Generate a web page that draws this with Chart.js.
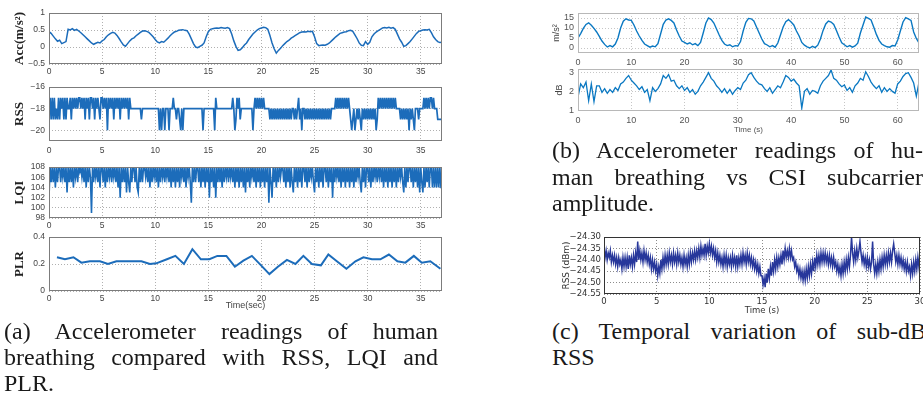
<!DOCTYPE html>
<html>
<head>
<meta charset="utf-8">
<script src="https://cdn.jsdelivr.net/npm/chart.js@4.4.0/dist/chart.umd.min.js"></script>
<style>
    html, body { margin: 0; padding: 0; width: 923px; height: 401px; overflow: hidden; background: #fff; }
    canvas { position: absolute; }
    .cap { position: absolute; font-family: "Liberation Serif", serif; font-size: 24px; line-height: 26px; color: #1a1a1a; }
    .cap div { text-align: justify; text-align-last: justify; }
    .cap div.last { text-align-last: left; }
</style>
</head>
<body>
<canvas id="accChart"></canvas>
<canvas id="rssChart"></canvas>
<canvas id="lqiChart"></canvas>
<canvas id="plrChart"></canvas>
<canvas id="breathChart"></canvas>
<canvas id="csiChart"></canvas>
<canvas id="dbmChart"></canvas>

<div class="cap" style="left:4px; top:318px; width:434px;">
    <div>(a) Accelerometer readings of human</div>
    <div>breathing compared with RSS, LQI and</div>
    <div class="last">PLR.</div>
</div>
<div class="cap" style="left:552px; top:137px; width:371px; line-height:26.5px;">
    <div>(b) Accelerometer readings of hu-</div>
    <div>man breathing vs CSI subcarrier</div>
    <div class="last">amplitude.</div>
</div>
<div class="cap" style="left:552px; top:318px; width:374px;">
    <div>(c) Temporal variation of sub-dB</div>
    <div class="last">RSS</div>
</div>

<script>
// ---- (a) accelerometer, one sample every 0.2 s
const accStep = 0.2;
const accValues = [
    0.45, 0.40, 0.32, 0.24, 0.17, 0.20, 0.10, 0.13, 0.16, 0.52,
    0.50, 0.54, 0.49, 0.52, 0.47, 0.42, 0.36, 0.30, 0.24, 0.18,
    0.12, 0.08, 0.11, 0.14, 0.12, 0.18, 0.22, 0.30, 0.36, 0.40,
    0.43, 0.41, 0.34, 0.25, 0.15, 0.06, 0.02, 0.10, 0.18, 0.24,
    0.27, 0.33, 0.38, 0.43, 0.47, 0.48, 0.46, 0.43, 0.37, 0.30,
    0.22, 0.15, 0.12, 0.16, 0.14, 0.20, 0.26, 0.33, 0.39, 0.44,
    0.46, 0.49, 0.50, 0.51, 0.49, 0.48, 0.38, 0.24, 0.10, 0.00,
    -0.02, 0.02, 0.05, 0.12, 0.30, 0.45, 0.52, 0.54, 0.55, 0.56,
    0.55, 0.57, 0.56, 0.55, 0.57, 0.54, 0.38, 0.18, 0.02, -0.10,
    -0.08, -0.02, 0.06, 0.12, 0.22, 0.30, 0.38, 0.44, 0.50, 0.54,
    0.56, 0.58, 0.57, 0.52, 0.34, 0.12, -0.05, -0.18, -0.10, -0.04,
    0.04, 0.10, 0.16, 0.20, 0.26, 0.30, 0.34, 0.38, 0.42, 0.44,
    0.45, 0.44, 0.46, 0.45, 0.46, 0.30, 0.10, 0.04, 0.05, 0.06,
    0.05, 0.08, 0.12, 0.18, 0.24, 0.30, 0.35, 0.40, 0.42, 0.44,
    0.45, 0.48, 0.49, 0.46, 0.36, 0.25, 0.12, 0.05, 0.04, 0.16,
    0.08, 0.14, 0.30, 0.38, 0.44, 0.48, 0.52, 0.56, 0.57, 0.56,
    0.58, 0.55, 0.57, 0.52, 0.38, 0.24, 0.14, 0.02, 0.04, 0.10,
    0.16, 0.24, 0.32, 0.40, 0.46, 0.48, 0.50, 0.51, 0.50, 0.52,
    0.42, 0.30, 0.22, 0.16, 0.13, 0.14
];

// ---- (a) RSS, one code every 0.1 s (one string per second)
const rssStep = 0.1;
const rssLevels = { '7': -17, '8': -18, '9': -19, '0': -20 };
const rssCodes = [
    '8797979897', '9787979788', '7978787877', '8787978797', '7879787897',
    '7878707878', '7978787978', '7878797888', '8888888988', '8888888888',
    '8888080880', '8880888788', '9889080888', '8888888888', '8888808888',
    '8888880788', '8888888888', '8887809787', '9888888888', '8808787878',
    '7878888898', '9898989898', '9898989898', '8989879808', '8989898989',
    '8989898989', '8989898888', '7878787878', '7878909809', '8989089898',
    '9898989809', '7878787878', '7878787888', '8989898980', '8989088898',
    '8887878787', '7878889999', '9'
].join('');

// ---- (a) LQI, one code every 0.1 s ('9' stands for 99)
const lqiStep = 0.1;
const lqiLevels = { '1': 101, '2': 102, '3': 103, '4': 104, '5': 105, '6': 106, '7': 107, '8': 108, '9': 99 };
const lqiCodes = [
    '2858584858', '8586858385', '8584868587', '8685848586', '9858685848',
    '8584858685', '8685848285', '8583853858', '8584385858', '8685848586',
    '8584858685', '8685848584', '8584868584', '8685185858', '8584858485',
    '8285848285', '8584858685', '8685848584', '8584838584', '8685848584',
    '8584858185', '2858485868', '8584858485', '3858485848', '8584858685',
    '3858485848', '8584858285', '8685848584', '8584858485', '8685385848',
    '8584858685', '8685848584', '8584858485', '8685384858', '8584858483',
    '8538485848', '8484848484', '4'
].join('');

// ---- (a) PLR
const plrTimes = [0.75, 1.5, 2.3, 3.05, 3.85, 4.8, 5.55, 6.35, 7.3, 8.7, 9.5, 10.1, 11.1, 11.9, 12.7,
    13.5, 14.3, 15.1, 15.85, 16.7, 17.5, 18.3, 19.1, 19.9, 20.75, 21.55, 22.4, 23.2, 23.95, 24.75,
    25.6, 26.3, 27.1, 28.0, 28.85, 29.6, 30.4, 31.2, 32.0, 32.8, 33.55, 34.35, 35.1, 35.9, 36.85];
const plrValues = [0.25, 0.235, 0.25, 0.21, 0.22, 0.22, 0.20, 0.22, 0.22, 0.22, 0.20, 0.205, 0.235, 0.26, 0.20,
    0.31, 0.235, 0.235, 0.26, 0.26, 0.18, 0.225, 0.26, 0.195, 0.125, 0.18, 0.23, 0.20, 0.26, 0.20,
    0.19, 0.27, 0.22, 0.165, 0.22, 0.25, 0.235, 0.235, 0.27, 0.22, 0.21, 0.26, 0.21, 0.22, 0.165];

const aTimeTicks = [0, 5, 10, 15, 20, 25, 30, 35];
const accTicks = [-0.5, 0, 0.5, 1];
const rssTicks = [-20, -18, -16];
const lqiTicks = [98, 100, 102, 104, 106, 108];
const plrTicks = [0, 0.2, 0.4];

// ---- (b) accelerometer (m/s^2) and CSI amplitude (dB), one sample every 0.5 s
const bStep = 0.5;
const breathValues = [
    5.0, 7.2, 9.8, 11.8, 12.6, 11.4, 9.8, 8.0, 5.8, 3.5,
    1.8, 0.5, 1.2, 0.6, 2.0, 5.0, 10.0, 13.4, 14.6, 14.0,
    13.8, 11.5, 8.5, 6.0, 3.8, 2.0, 1.2, 0.4, 1.0, 0.6,
    2.2, 7.0, 11.8, 14.0, 14.6, 13.8, 12.5, 9.0, 6.0, 3.5,
    2.8, 2.0, 2.6, 1.6, 2.2, 1.2, 2.8, 7.5, 12.5, 15.0,
    14.2, 12.5, 9.5, 6.5, 3.8, 2.0, 1.2, 1.6, 0.6, 1.2,
    1.0, 3.2, 8.5, 12.8, 14.8, 14.6, 13.5, 10.5, 7.5, 4.5,
    2.2, 1.5, 0.6, 1.2, 0.4, 2.5, 6.5, 10.5, 13.2, 14.2,
    13.0, 11.5, 8.5, 6.0, 2.8, 1.4, 0.6, 0.0, 0.8, 0.2,
    1.4, 4.5, 8.8, 12.0, 13.5, 13.0, 11.8, 8.8, 5.5, 2.6,
    1.6, 0.6, 1.2, 0.4, 1.0, 2.4, 7.5, 11.5, 15.5, 14.8,
    14.0, 10.5, 6.8, 3.8, 2.0, 1.2, 0.6, 0.4, 1.2, 1.0,
    4.0, 8.5, 13.0, 15.2, 14.6, 13.8, 8.0, 4.8, 2.5
];
const csiValues = [
    1.7, 2.4, 2.2, 2.5, 1.5, 2.4, 1.45, 2.3, 2.3, 1.95,
    2.15, 1.9, 2.1, 1.95, 2.2, 2.05, 2.4, 2.5, 2.7, 2.85,
    2.6, 2.45, 2.3, 2.1, 2.25, 1.95, 2.1, 1.5, 2.2, 2.0,
    2.15, 2.4, 2.85, 2.7, 2.9, 2.55, 2.6, 2.3, 2.15, 2.3,
    2.05, 2.2, 1.95, 2.1, 1.85, 2.0, 2.3, 2.5, 2.75, 3.0,
    2.7, 2.55, 2.3, 2.15, 1.95, 2.15, 1.9, 2.1, 1.85, 2.05,
    2.2, 2.1, 2.45, 2.6, 2.9, 3.0, 2.75, 2.55, 2.4, 2.35,
    2.15, 2.0, 2.2, 1.9, 2.1, 2.3, 2.2, 2.5, 2.85, 2.75,
    2.55, 2.65, 2.45, 2.3, 1.1, 2.0, 2.15, 1.85, 2.05, 2.0,
    1.9, 2.3, 2.55, 2.7, 2.85, 3.15, 2.7, 2.6, 2.4, 2.25,
    2.35, 2.05, 2.2, 1.95, 2.3, 2.45, 2.7, 2.6, 3.05, 2.8,
    2.5, 2.3, 2.15, 2.3, 1.95, 2.2, 2.0, 2.15, 2.0, 1.9,
    2.4, 2.55, 2.8, 2.95, 3.0, 2.75, 2.45, 1.75, 2.5
];
const bTimeTicks = [0, 10, 20, 30, 40, 50, 60];
const breathTicks = [0, 5, 10, 15];
const csiTicks = [1, 2, 3];

// ---- (c) RSS in dBm, one code every 0.1 s: 'a' = -24.55, each letter +0.01
const dbmStep = 0.1;
const dbmCodes = [
    'uqtpsqtoro', 'rnqmqnplqm', 'qmqlrnqmrn', 'soxptpsotp', 'sornqlplok',
    'nimjplqmrn', 'rnsornsorn', 'sornqmrnqm', 'rnsosptptq', 'uqvrurwrvs',
    'wsvruqtoso', 'rnqmrnrmqn', 'qmrnqmrmqn', 'rnsornsorn', 'qmploknjmi',
    'iehdjflhmi', 'okplqmqnrn', 'tpuqtquqtp', 'qmokmilhkg', 'kglhminjok',
    'qmrnrnsoso', 'sornrnqmqm', 'oknjminjok', 'plqmrzsotp', 'uqtxsornqm',
    'qmploxnjnj', 'okplqmrnrn', 'sosotwsorn', 'rnqmplokok', 'minjokplqm',
    'r'
].join('');
const cTimeTicks = [0, 5, 10, 15, 20, 25, 30];
const dbmTicks = [-24.55, -24.50, -24.45, -24.40, -24.35, -24.30];

// ------------------------------------------------------------
const PAD = 6;

function series(values, step) {
    return values.map((v, i) => ({ x: Math.round(i * step * 100) / 100, y: v }));
}
function decode(codes, table) {
    return codes.split('').map(c => table[c]);
}
function minus(v) {
    return String(v).replace('-', '\u2212');
}

// box round the plot area
const framePlugin = {
    id: 'frame',
    afterDraw(chart, args, opts) {
        const a = chart.chartArea;
        const ctx = chart.ctx;
        ctx.save();
        ctx.strokeStyle = opts.color;
        ctx.lineWidth = 1;
        ctx.strokeRect(Math.round(a.left) + 0.5, Math.round(a.top) + 0.5,
            Math.round(a.right - a.left) - 1, Math.round(a.bottom - a.top) - 1);
        ctx.restore();
    }
};

const styleA = {
    font: { family: 'Liberation Sans', size: 8.5 }, text: '#444', grid: '#b0b0b0', frame: '#7c7c7c',
    yTitleFont: { family: 'Liberation Serif', size: 13, weight: 'bold' }, yTitleColor: '#222',
    xTitleFont: { family: 'Liberation Sans', size: 9 }
};
const styleB = {
    font: { family: 'Liberation Sans', size: 9 }, text: '#555', grid: '#c6c6c6', frame: '#b8b8b8',
    yTitleFont: { family: 'Liberation Sans', size: 9 }, yTitleColor: '#444',
    xTitleFont: { family: 'Liberation Sans', size: 8 }
};
const styleC = {
    font: { family: 'DejaVu Sans', size: 8.5 }, text: '#333', grid: '#8c8c8c', frame: '#333',
    yTitleFont: { family: 'DejaVu Sans', size: 9 }, yTitleColor: '#333',
    xTitleFont: { family: 'DejaVu Sans', size: 8.5 }
};

function makePanel(id, cfg) {
    const [l, t, r, b] = cfg.area;
    const st = cfg.style;
    const canvas = document.getElementById(id);
    const left = l - cfg.yw;
    const top = t - PAD;
    canvas.style.left = left + 'px';
    canvas.style.top = top + 'px';
    canvas.width = r + PAD - left;
    canvas.height = b + cfg.xh - top;

    const fixTicks = list => scale => { scale.ticks = list.map(v => ({ value: v })); };

    new Chart(canvas, {
        type: 'line',
        data: {
            datasets: [{
                data: cfg.points,
                borderColor: cfg.color,
                borderWidth: cfg.lineWidth,
                pointRadius: 0,
                fill: false,
                tension: 0
            }]
        },
        options: {
            responsive: false,
            animation: false,
            events: [],
            layout: { padding: { top: PAD, right: PAD, bottom: 0, left: 0 } },
            plugins: {
                legend: { display: false },
                tooltip: { enabled: false },
                frame: { color: st.frame }
            },
            scales: {
                x: {
                    type: 'linear',
                    min: cfg.xRange[0],
                    max: cfg.xRange[1],
                    afterBuildTicks: fixTicks(cfg.xTicks),
                    afterFit: s => { s.height = cfg.xh; s.paddingLeft = 0; s.paddingRight = 0; },
                    grid: { color: st.grid, drawTicks: false, borderDash: [1, 2] },
                    border: { display: false, dash: [1, 2] },
                    ticks: { font: st.font, color: st.text, padding: cfg.xPad, maxRotation: 0, autoSkip: false },
                    title: {
                        display: !!cfg.xTitle, text: cfg.xTitle || '', font: st.xTitleFont,
                        color: st.text, padding: 0
                    }
                },
                y: {
                    type: 'linear',
                    min: cfg.yRange[0],
                    max: cfg.yRange[1],
                    afterBuildTicks: fixTicks(cfg.yTicks),
                    afterFit: s => { s.width = cfg.yw; s.paddingTop = 0; s.paddingBottom = 0; },
                    grid: { color: st.grid, drawTicks: false, borderDash: [1, 2] },
                    border: { display: false, dash: [1, 2] },
                    ticks: { font: st.font, color: st.text, padding: cfg.yPad, autoSkip: false, callback: cfg.yFormat || minus },
                    title: {
                        display: true, text: cfg.yTitle, font: st.yTitleFont, color: st.yTitleColor,
                        padding: { top: cfg.yTitlePad, bottom: 0 }
                    }
                }
            }
        },
        plugins: [framePlugin]
    });
}

document.addEventListener('DOMContentLoaded', function () {
    const blueA = '#1c6cba';
    const blueB = '#0a78c2';
    const navy = '#27379b';

    makePanel('accChart', {
        area: [49, 13, 442, 64], yw: 49, xh: 14, style: styleA,
        points: series(accValues, accStep), color: blueA, lineWidth: 1.5,
        xRange: [0, 37], xTicks: aTimeTicks, xPad: 3,
        yRange: [-0.5, 1], yTicks: accTicks, yPad: 4,
        yTitle: 'Acc(m/s\u00b2)', yTitlePad: 12
    });
    makePanel('rssChart', {
        area: [49, 87, 442, 141], yw: 49, xh: 16, style: styleA,
        points: series(decode(rssCodes, rssLevels), rssStep), color: blueA, lineWidth: 1.7,
        xRange: [0, 37], xTicks: aTimeTicks, xPad: 5,
        yRange: [-21, -16], yTicks: rssTicks, yPad: 4,
        yTitle: 'RSS', yTitlePad: 12
    });
    makePanel('lqiChart', {
        area: [49, 167, 442, 218], yw: 49, xh: 14, style: styleA,
        points: series(decode(lqiCodes, lqiLevels), lqiStep), color: blueA, lineWidth: 1.6,
        xRange: [0, 37], xTicks: aTimeTicks, xPad: 2.5,
        yRange: [98, 108], yTicks: lqiTicks, yPad: 4,
        yTitle: 'LQI', yTitlePad: 12
    });
    makePanel('plrChart', {
        area: [49, 237, 442, 291], yw: 49, xh: 20, style: styleA,
        points: plrTimes.map((x, i) => ({ x: x, y: plrValues[i] })), color: blueA, lineWidth: 2,
        xRange: [0, 37], xTicks: aTimeTicks, xPad: 2.5, xTitle: 'Time(sec)',
        yRange: [0, 0.4], yTicks: plrTicks, yPad: 4,
        yTitle: 'PLR', yTitlePad: 12
    });

    makePanel('breathChart', {
        area: [578, 13, 919, 53], yw: 40, xh: 14, style: styleB,
        points: series(breathValues, bStep), color: blueB, lineWidth: 1.4,
        xRange: [0, 64], xTicks: bTimeTicks, xPad: 4.5,
        yRange: [-2.5, 17.5], yTicks: breathTicks, yPad: 4,
        yTitle: 'm/s\u00b2', yTitlePad: 13.6
    });
    makePanel('csiChart', {
        area: [578, 69, 919, 111], yw: 40, xh: 24, style: styleB,
        points: series(csiValues, bStep), color: blueB, lineWidth: 1.3,
        xRange: [0, 64], xTicks: bTimeTicks, xPad: 4.5, xTitle: 'Time (s)',
        yRange: [0.95, 3.2], yTicks: csiTicks, yPad: 4,
        yTitle: 'dB', yTitlePad: 16.6
    });

    makePanel('dbmChart', {
        area: [604, 237, 920, 294], yw: 50, xh: 22, style: styleC,
        points: series(dbmCodes.split('').map(c => -24.55 + (c.charCodeAt(0) - 97) * 0.01), dbmStep),
        color: navy, lineWidth: 1.5,
        xRange: [0, 30], xTicks: cTimeTicks, xPad: 2.5, xTitle: 'Time (s)',
        yRange: [-24.55, -24.30], yTicks: dbmTicks, yPad: 3,
        yFormat: v => minus(v.toFixed(2)),
        yTitle: 'RSS (dBm)', yTitlePad: 7.6
    });
});
</script>
</body>
</html>
